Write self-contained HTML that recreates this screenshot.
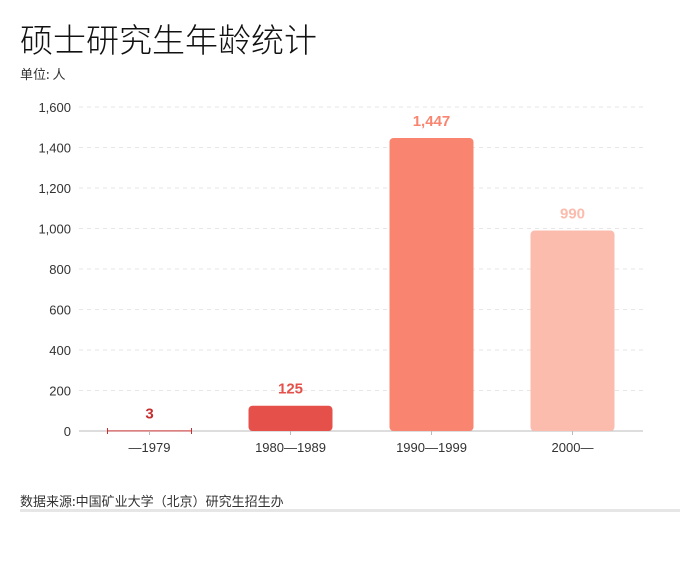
<!DOCTYPE html>
<html><head><meta charset="utf-8"><style>
body{margin:0;background:#fff;width:700px;height:576px;overflow:hidden;font-family:"Liberation Sans","Noto Sans CJK SC",sans-serif}
</style></head><body>
<div style="position:absolute;left:20px;top:14px;font-size:33px;color:#111;font-family:'Noto Sans CJK SC',sans-serif;font-weight:300">硕士研究生年龄统计</div>
<div style="position:absolute;left:20px;top:64px;font-size:13px;color:#333;font-family:'Noto Sans CJK SC',sans-serif">单位: 人</div>
<svg id="c" width="700" height="576" style="position:absolute;left:0;top:0"></svg>
<div style="position:absolute;left:20px;top:491px;font-size:13px;color:#333;font-family:'Noto Sans CJK SC',sans-serif">数据来源:中国矿业大学（北京）研究生招生办</div>
<div style="position:absolute;left:20px;top:509px;width:660px;height:3px;background:#e6e6e6"></div>
<script>
const categories=["—1979","1980—1989","1990—1999","2000—"];
const values=[3,125,1447,990];
const ticks=[0,200,400,600,800,1000,1200,1400,1600];
const tickLabels=["0","200","400","600","800","1,000","1,200","1,400","1,600"];
const colors=["#c62f2f","#e5504a","#f98570","#fbbcad"];
const svg=document.getElementById('c');const NS="http://www.w3.org/2000/svg";
const x0=79,band=141,y0=431,yMax=1600,h=324;
const y=v=>y0-v/yMax*h;const xc=i=>x0+band*(i+0.5);
function el(t,a){const e=document.createElementNS(NS,t);for(const k in a)e.setAttribute(k,a[k]);svg.appendChild(e);return e;}
ticks.forEach((t,i)=>{
 if(t>0){const g=el('line',{x1:x0,x2:643,y1:y(t),y2:y(t),stroke:'#e6e6e6','stroke-dasharray':'4,4'});}
 const tx=el('text',{x:71,y:y(t)+5,'text-anchor':'end','font-size':13,fill:'#333'});tx.textContent=tickLabels[i];
 
});
const ax=el('line',{x1:x0,x2:643,y1:y0,y2:y0,stroke:'#bbb'});
values.forEach((v,i)=>{
 const bx=xc(i)-42,by=y(v),bh=Math.max(y0-by,1);
 const r=el('rect',{x:bx,y:by,width:84,height:bh,rx:bh>6?4:0,fill:colors[i]});
 
 if(bh<3){[bx,bx+84].forEach(px=>el('line',{x1:px,x2:px,y1:y0-3,y2:y0+3,stroke:colors[i]}));}
 const l=el('text',{x:xc(i),y:by-12,'text-anchor':'middle','font-size':15,'font-weight':'bold',fill:colors[i]});l.textContent=values[i].toLocaleString('en-US');
 
 el('line',{x1:xc(i),x2:xc(i),y1:y0,y2:y0+4,stroke:'#bbb'});
 const c=el('text',{x:xc(i),y:452,'text-anchor':'middle','font-size':13,fill:'#333'});c.textContent=categories[i];
 
});
</script>
</body></html>
